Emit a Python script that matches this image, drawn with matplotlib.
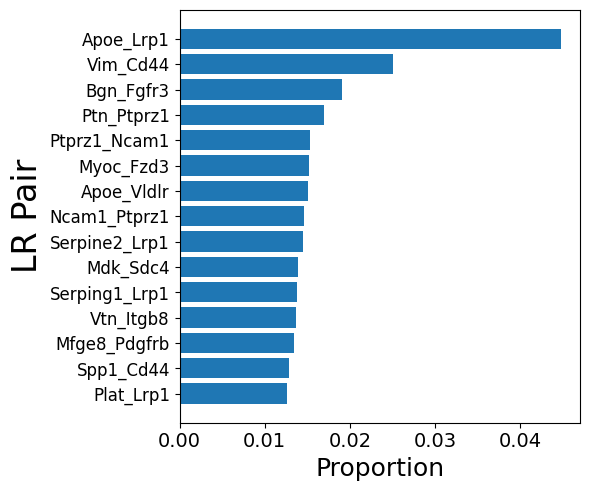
import numpy as np
import matplotlib
matplotlib.use("Agg")
import matplotlib.pyplot as plt

# LR pairs, top to bottom
pairs = ['Apoe_Lrp1', 'Vim_Cd44', 'Bgn_Fgfr3', 'Ptn_Ptprz1', 'Ptprz1_Ncam1',
         'Myoc_Fzd3', 'Apoe_Vldlr', 'Ncam1_Ptprz1', 'Serpine2_Lrp1', 'Mdk_Sdc4',
         'Serping1_Lrp1', 'Vtn_Itgb8', 'Mfge8_Pdgfrb', 'Spp1_Cd44', 'Plat_Lrp1']
proportion = [0.04481, 0.02508, 0.01907, 0.01696, 0.01531,
              0.01519, 0.01508, 0.01461, 0.01449, 0.01390,
              0.01378, 0.01367, 0.01343, 0.01284, 0.01261]

fig = plt.figure(figsize=(5.9, 4.9), dpi=100)
ax = fig.add_axes([179.7 / 590, 1 - 422.5 / 490, (580 - 179.7) / 590, (422.5 - 10) / 490])

ax.barh(pairs[::-1], proportion[::-1], color='#1f77b4')
ax.set_xlabel('Proportion', fontsize=18)
ax.set_ylabel('LR Pair', fontsize=24)
ax.tick_params(axis='x', labelsize=14)
ax.tick_params(axis='y', labelsize=12)

fig.savefig('out.png', dpi=100)
